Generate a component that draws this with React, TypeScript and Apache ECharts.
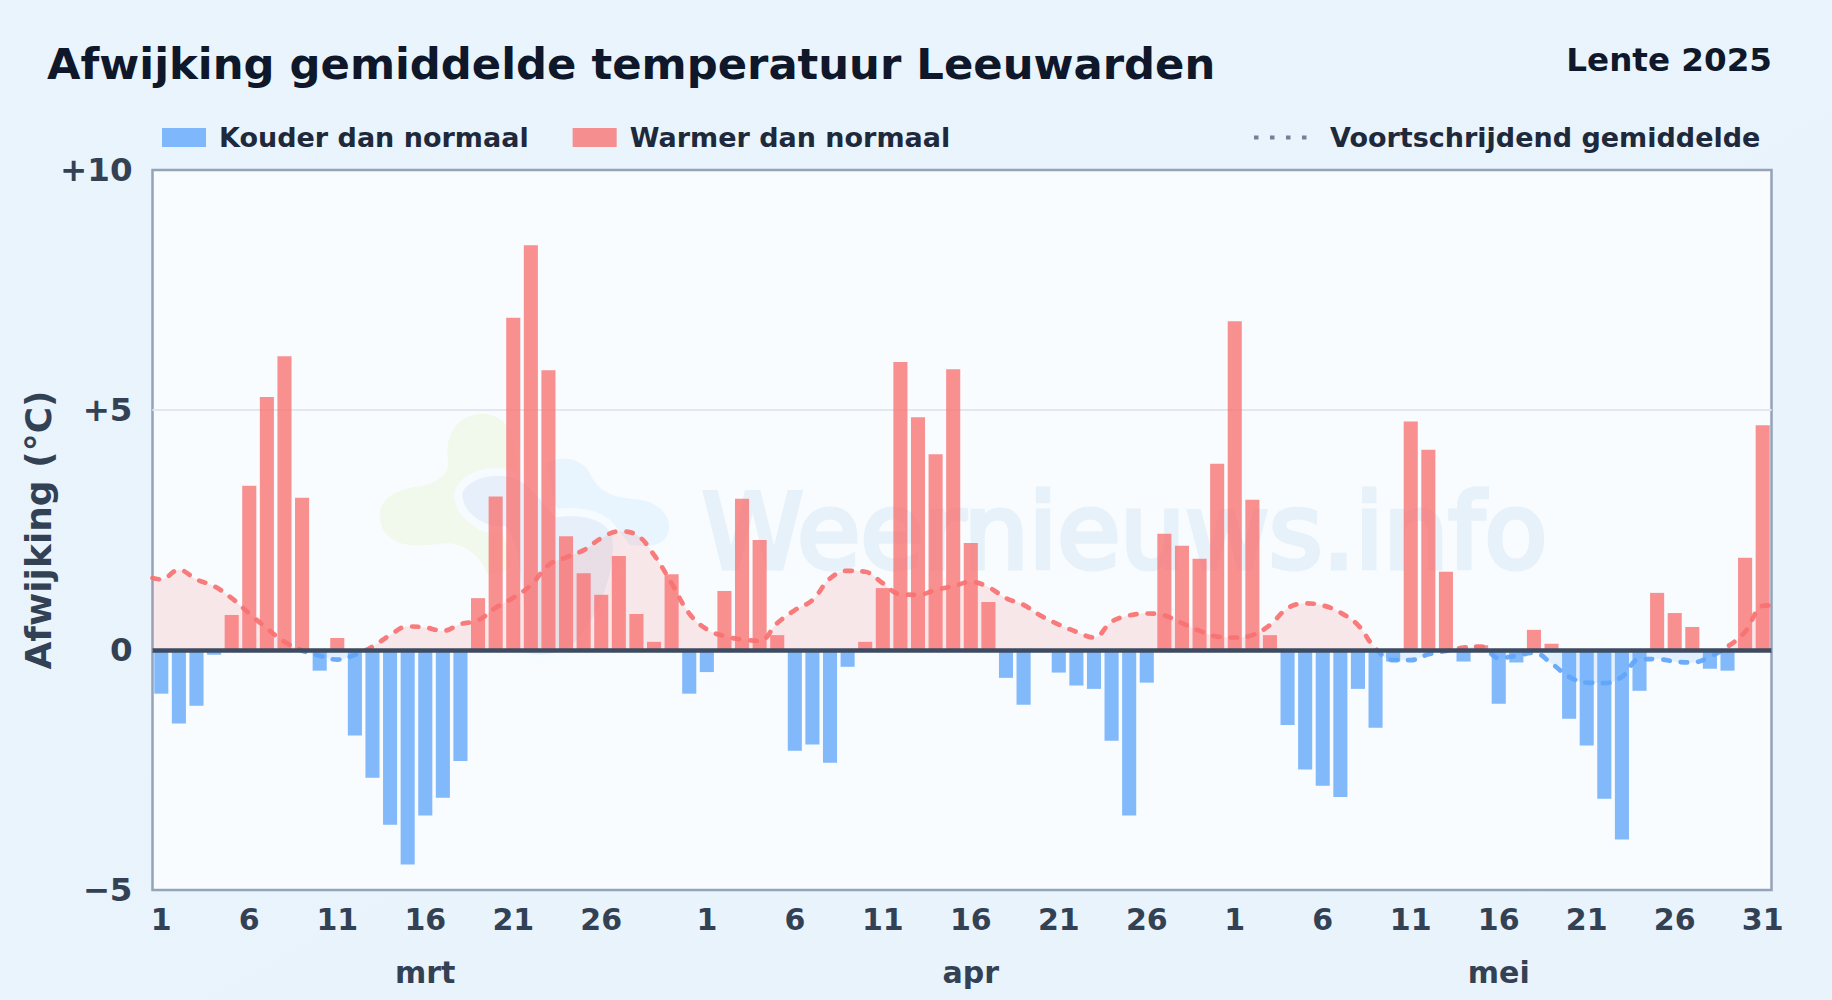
import React, { useEffect, useRef } from "react";
import * as echarts from "echarts";

const chartTitle = "Afwijking gemiddelde temperatuur Leeuwarden";
const seasonLabel = "Lente 2025";
const coldName = "Kouder dan normaal";
const warmName = "Warmer dan normaal";
const avgName = "Voortschrijdend gemiddelde";
const yTitle = "Afwijking (°C)";
const watermark = "Weernieuws.info";

const dayNumbers = [
  ...Array.from({ length: 31 }, (_, i) => i + 1),
  ...Array.from({ length: 30 }, (_, i) => i + 1),
  ...Array.from({ length: 31 }, (_, i) => i + 1),
];
const dayTickLabels = [
  "1","6","11","16","21","26",
];
const hiddenTickIndexes = [30, 60];
const monthLabelIndex: Record<number, string> = { 15: "mrt", 46: "apr", 76: "mei" };

const marchValues = [
  -0.91, -1.53, -1.16, -0.1, 0.73, 3.42, 5.27, 6.12, 3.17, -0.43, 0.25, -1.78, -2.66, -3.64, -4.47, -3.45,
  -3.08, -2.31, 1.08, 3.2, 6.92, 8.43, 5.83, 2.37, 1.6, 1.15, 1.96, 0.75, 0.17, 1.58, -0.91,
];
const aprilValues = [
  -0.46, 1.23, 3.15, 2.29, 0.31, -2.1, -1.97, -2.35, -0.35, 0.17, 1.29, 6.0, 4.85, 4.08, 5.85, 2.23,
  1.0, -0.58, -1.14, 0, -0.47, -0.74, -0.81, -1.89, -3.45, -0.68, 2.42, 2.17, 1.9, 3.88,
];
const mayValues = [
  6.85, 3.13, 0.31, -1.56, -2.49, -2.83, -3.06, -0.81, -1.62, -0.24, 4.76, 4.17, 1.63, -0.24, 0.1, -1.12,
  -0.26, 0.42, 0.13, -1.43, -1.99, -3.1, -3.95, -0.85, 1.19, 0.77, 0.48, -0.39, -0.43, 1.92, 4.68,
];
const movingAverage = [
  1.47, 1.67, 1.47, 1.33, 1.08, 0.76, 0.45, 0.17, -0.01, -0.12, -0.2, -0.1, 0.07, 0.31, 0.49, 0.47,
  0.4, 0.54, 0.62, 0.88, 1.09, 1.35, 1.77, 1.93, 2.08, 2.33, 2.47, 2.4, 1.98, 1.39, 0.76,
  0.43, 0.29, 0.22, 0.19, 0.56, 0.83, 1.04, 1.49, 1.65, 1.63, 1.39, 1.16, 1.15, 1.25, 1.33, 1.42,
  1.31, 1.08, 0.94, 0.71, 0.53, 0.38, 0.26, 0.59, 0.72, 0.76, 0.72, 0.56, 0.4, 0.28,
  0.26, 0.31, 0.52, 0.87, 0.97, 0.93, 0.78, 0.52, 0.03, -0.21, -0.21, -0.09, -0.02, 0.05, 0.07, -0.17,
  -0.12, -0.06, -0.28, -0.56, -0.68, -0.69, -0.56, -0.19, -0.19, -0.24, -0.26, -0.14, 0.07, 0.38, 0.92,
];
const movingAverageLeftEdge = 1.5;
const movingAverageRightEdge = 0.93;

const allValues = [...marchValues, ...aprilValues, ...mayValues];
const coldValues = allValues.map((v) => (v < 0 ? v : null));
const warmValues = allValues.map((v) => (v > 0 ? v : null));
const avgPoints: [number, number][] = [
  [-0.5, movingAverageLeftEdge],
  ...movingAverage.map((v, i) => [i, v] as [number, number]),
  [allValues.length - 0.5, movingAverageRightEdge],
];

const FONT = "DejaVu Sans";

const SHAPE_GREEN =
  "M30 340 C35 290 90 265 150 260 C200 250 235 225 235 190 C225 130 240 60 320 42 C380 35 420 70 430 120 L470 440 C440 500 380 540 350 520 C340 480 290 430 230 430 C170 435 120 445 80 425 C45 410 28 380 30 340 Z";
const SHAPE_SKY =
  "M530 190 C570 165 640 170 665 230 C690 280 740 295 800 298 C870 305 905 350 897 395 C885 440 830 445 780 435 L730 370 C690 330 610 320 560 345 Z";
const SHAPE_CLOUD =
  "M265 280 C275 235 350 205 420 220 C480 230 520 290 560 340 C620 330 710 340 735 400 C755 450 730 620 620 740 C570 785 480 785 450 760 C460 600 430 410 400 390 C340 395 265 350 265 280 Z";

echarts.graphic.registerShape("wmGreen", echarts.graphic.extendPath(SHAPE_GREEN as any, {}) as any);
echarts.graphic.registerShape("wmSky", echarts.graphic.extendPath(SHAPE_SKY as any, {}) as any);
echarts.graphic.registerShape("wmCloud", echarts.graphic.extendPath(SHAPE_CLOUD as any, {}) as any);

export default function App() {
  const ref = useRef<HTMLDivElement>(null);
  useEffect(() => {
    document.body.style.margin = "0";
    const chart = echarts.init(ref.current!, undefined, { renderer: "svg" });
    const wmBase = { x: 370, y: 400, scaleX: 1 / 3, scaleY: 1 / 3, z: 1, silent: true };
    chart.setOption({
      animation: false,
      backgroundColor: {
        type: "linear", x: 0, y: 0, x2: 1, y2: 1,
        colorStops: [
          { offset: 0, color: "#e9f4fc" },
          { offset: 1, color: "#e8f3fb" },
        ],
      },
      title: [
        {
          text: chartTitle, left: 42, top: 37,
          textStyle: { fontFamily: FONT, fontWeight: "bold", fontSize: 43.3, color: "#0f172a" },
        },
        {
          text: seasonLabel, right: 55, top: 38,
          textStyle: { fontFamily: FONT, fontWeight: "bold", fontSize: 32.6, color: "#0f172a" },
        },
      ],
      legend: [
        {
          left: 162, top: 124, padding: 0, itemWidth: 44, itemHeight: 19, itemGap: 44, icon: "rect",
          data: [coldName, warmName],
          textStyle: { fontFamily: FONT, fontWeight: "bold", fontSize: 27, color: "#1e293b", padding: [0, 0, 0, 8] },
        },
        {
          left: 1252, top: 124, padding: 0, itemWidth: 53, itemHeight: 19,
          data: [avgName],
          itemStyle: { opacity: 0 },
          lineStyle: { color: "#64748b", width: 4, type: [4.5, 11.5], opacity: 0.9, cap: "butt" },
          textStyle: { fontFamily: FONT, fontWeight: "bold", fontSize: 27, color: "#1e293b", padding: [0, 0, 0, 18] },
        },
      ],
      grid: {
        left: 152.5, top: 170, width: 1619, height: 720, show: true,
        backgroundColor: "#f8fcff", borderColor: "#94a3b8", borderWidth: 2.5, containLabel: false,
      },
      xAxis: [
        {
          type: "category", position: "bottom", data: dayNumbers.map(String),
          axisTick: { show: false }, axisLine: { show: false }, splitLine: { show: false },
          axisLabel: {
            margin: 14.5, fontFamily: FONT, fontWeight: "bold", fontSize: 30, color: "#334155",
            interval: (i: number) =>
              dayTickLabels.includes(String(dayNumbers[i])) && !hiddenTickIndexes.includes(i) || i === 91,
          },
        },
        {
          type: "category", position: "bottom", data: dayNumbers.map((_, i) => monthLabelIndex[i] ?? ""),
          axisTick: { show: false }, axisLine: { show: false }, splitLine: { show: false },
          axisLabel: {
            margin: 67.5, fontFamily: FONT, fontWeight: "bold", fontSize: 30, color: "#334155",
            interval: (i: number) => Boolean(monthLabelIndex[i]),
          },
        },
        { type: "value", show: false, min: -0.5, max: allValues.length - 0.5, splitLine: { show: false } },
      ],
      yAxis: {
        type: "value", min: -5, max: 10, interval: 5,
        name: yTitle, nameLocation: "middle", nameGap: 96, nameRotate: 90, nameMoveOverlap: false,
        nameTextStyle: { fontFamily: FONT, fontWeight: "bold", fontSize: 36, color: "#334155" },
        axisLine: { show: false }, axisTick: { show: false },
        splitLine: { showMinLine: false, showMaxLine: false, lineStyle: { color: "#e2e8f0", width: 2 } },
        axisLabel: {
          margin: 20, fontFamily: FONT, fontWeight: "bold", fontSize: 32.5, color: "#334155",
          formatter: (v: number) => (v > 0 ? `+${v}` : v < 0 ? `\u2212${Math.abs(v)}` : "0"),
        },
      },
      visualMap: {
        show: false, seriesIndex: 2, dimension: 1,
        pieces: [
          { gte: -100, lt: 0, color: "#60a5fa" },
          { gte: 0, lte: 100, color: "#f87171" },
        ],
      },
      series: [
        {
          name: coldName, type: "bar", data: coldValues, barWidth: "80%", barGap: "-100%",
          itemStyle: { color: "#60a5fa", opacity: 0.78 }, z: 3,
        },
        {
          name: warmName, type: "bar", data: warmValues, barWidth: "80%", barGap: "-100%",
          itemStyle: { color: "#f87171", opacity: 0.78 }, z: 3,
          markLine: {
            silent: true, symbol: "none", label: { show: false }, z: 6,
            data: [{ yAxis: 0 }],
            lineStyle: { color: "#3d4b60", width: 4.5, type: "solid" },
          },
        },
        {
          name: avgName, type: "line", xAxisIndex: 2, data: avgPoints, smooth: 0.4, symbol: "none", showSymbol: false, z: 5,
          lineStyle: { width: 4.7, type: [6.5, 11], cap: "round", opacity: 0.92 },
          areaStyle: { opacity: 0.15 },
        },
      ],
      graphic: [
        { type: "wmGreen", ...wmBase, style: { fill: "#f1f9ec" } },
        { type: "wmSky", ...wmBase, style: { fill: "#e8f4fe" } },
        { type: "wmCloud", ...wmBase, style: { fill: "#e7f0fa", stroke: "#f6fbff", lineWidth: 24 } },
        {
          type: "text", x: 702, y: 481, z: 1, silent: true,
          style: {
            text: watermark, fontFamily: FONT, fontSize: 102.5, fontWeight: "normal",
            fill: "#e7f1fa", stroke: "#e7f1fa", lineWidth: 5, verticalAlign: "top",
          },
        },
      ],
    });
    return () => chart.dispose();
  }, []);
  return <div ref={ref} style={{ width: 1832, height: 1000 }} />;
}
